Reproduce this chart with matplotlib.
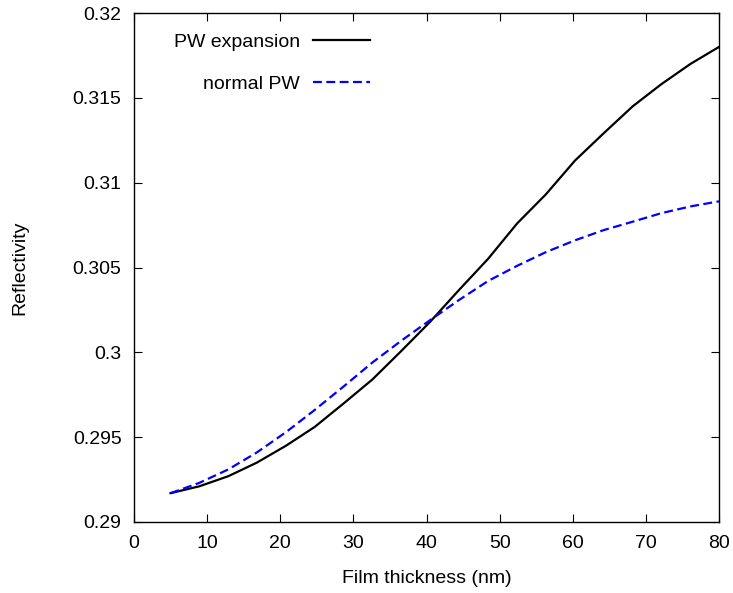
import matplotlib
matplotlib.use("Agg")
import matplotlib.pyplot as plt
from matplotlib.ticker import FuncFormatter

plt.rcParams['font.family'] = ['Liberation Sans', 'DejaVu Sans']

thickness = [5.0, 8.9, 12.9, 16.8, 20.8, 24.7, 28.7, 32.6, 36.6, 40.5,
             44.5, 48.4, 52.4, 56.3, 60.3, 64.2, 68.2, 72.1, 76.1, 80.0]
pw_expansion = [0.2917, 0.2921, 0.2927, 0.2935, 0.2945, 0.2956, 0.2970, 0.2984, 0.3001, 0.3018,
                0.3037, 0.3055, 0.3076, 0.3093, 0.3113, 0.3129, 0.3145, 0.3158, 0.3170, 0.3180]
normal_pw = [0.2917, 0.2923, 0.2931, 0.2941, 0.2953, 0.2966, 0.2980, 0.2994, 0.3007, 0.3019,
             0.3031, 0.3042, 0.3051, 0.3059, 0.3066, 0.3072, 0.3077, 0.3082, 0.3086, 0.3089]
x_ticks = [0, 10, 20, 30, 40, 50, 60, 70, 80]
y_ticks = [0.29, 0.295, 0.30, 0.305, 0.31, 0.315, 0.32]

FS = 14
fig = plt.figure(figsize=(7.33, 5.93), dpi=100)
L, R, T, B = 134, 719, 13, 522
ax = fig.add_axes([L/733, 1-B/593, (R-L)/733, (B-T)/593])

ax.plot(thickness, pw_expansion, color='black', lw=1.6, label='PW expansion')
ax.plot(thickness, normal_pw, color='#0000ff', lw=1.6, dashes=(4, 2), label='normal PW')

ax.set_xlim(0, 80)
ax.set_ylim(0.29, 0.32)
ax.set_xticks(x_ticks)
ax.set_yticks(y_ticks)
ax.yaxis.set_major_formatter(FuncFormatter(lambda v, p: '%g' % round(v, 4)))
ax.tick_params(direction='in', top=True, right=True, length=6, width=0.8,
               labelsize=FS, pad=9)
for s in ax.spines.values():
    s.set_linewidth(1.0)

ax.set_xlabel('Film thickness (nm)', fontsize=FS, labelpad=13)
ax.set_ylabel('Reflectivity', fontsize=FS)
ax.yaxis.set_label_coords(-(L - 28) / (R - L), 0.5)

leg = ax.legend(loc='upper right', bbox_to_anchor=((370 - L) / (R - L), 1 - (33 - T) / (B - T)),
                frameon=False, markerfirst=False, fontsize=FS, handlelength=2.93,
                labelspacing=1.25, handletextpad=0.67, borderpad=0, borderaxespad=0)
for col in leg._legend_handle_box.get_children():
    col.align = 'right'

fig.savefig('out.png', dpi=100)
